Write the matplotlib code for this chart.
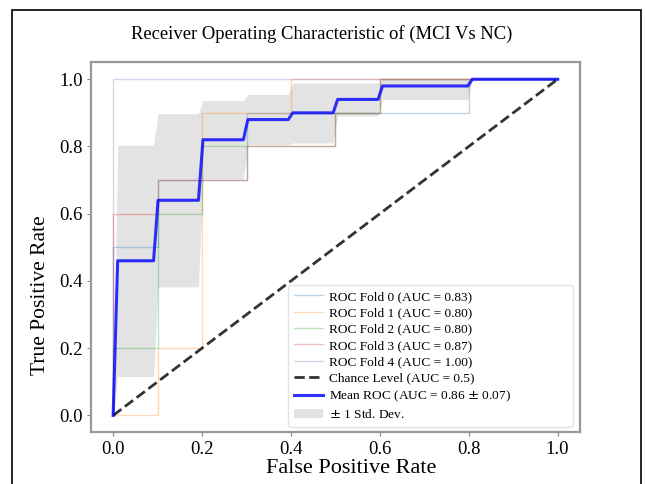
import numpy as np
import matplotlib.pyplot as plt
from matplotlib.patches import Rectangle

plt.rcParams['font.family'] = ['Liberation Serif', 'DejaVu Serif']

# per-fold ROC points (fpr, tpr)
fold_fpr = [
    [0.0, 0.0, 0.1, 0.1, 0.3, 0.3, 0.8, 0.8, 1.0],
    [0.0, 0.1, 0.1, 0.2, 0.2, 0.4, 0.4, 1.0],
    [0.0, 0.0, 0.1, 0.1, 0.2, 0.2, 0.5, 0.5, 0.6, 0.6, 1.0],
    [0.0, 0.0, 0.1, 0.1, 0.3, 0.3, 0.5, 0.5, 0.6, 0.6, 1.0],
    [0.0, 0.0, 1.0],
]
fold_tpr = [
    [0.0, 0.5, 0.5, 0.7, 0.7, 0.9, 0.9, 1.0, 1.0],
    [0.0, 0.0, 0.2, 0.2, 0.9, 0.9, 1.0, 1.0],
    [0.0, 0.2, 0.2, 0.6, 0.6, 0.8, 0.8, 0.9, 0.9, 1.0, 1.0],
    [0.0, 0.6, 0.6, 0.7, 0.7, 0.8, 0.8, 0.9, 0.9, 1.0, 1.0],
    [0.0, 1.0, 1.0],
]
fold_auc = [0.83, 0.80, 0.80, 0.87, 1.00]
mean_auc = 0.86
std_auc = 0.07
colors = ['#1f77b4', '#ff7f0e', '#2ca02c', '#d62728', '#9467bd']

fig = plt.figure(figsize=(6.45, 4.84), dpi=100)
ax = fig.add_axes([0.141, 0.107, 0.758, 0.764])

mean_fpr = np.linspace(0, 1, 100)
tprs = []
for i in range(len(fold_fpr)):
    ax.plot(fold_fpr[i], fold_tpr[i], color=colors[i], lw=1, alpha=0.3,
            label=f'ROC Fold {i} (AUC = {fold_auc[i]:.2f})')
    t = np.interp(mean_fpr, fold_fpr[i], fold_tpr[i])
    t[0] = 0.0
    tprs.append(t)

ax.plot([0, 1], [0, 1], 'k--', lw=2, alpha=0.8, label='Chance Level (AUC = 0.5)')

mean_tpr = np.mean(tprs, axis=0)
mean_tpr[-1] = 1.0
std_tpr = np.std(tprs, axis=0)
ax.plot(mean_fpr, mean_tpr, color='b', lw=2.2, alpha=0.8,
        label=f'Mean ROC (AUC = {mean_auc:.2f} $\\pm$ {std_auc:.2f})')
upper = np.minimum(mean_tpr + std_tpr, 1)
lower = np.maximum(mean_tpr - std_tpr, 0)
ax.fill_between(mean_fpr, lower, upper, color='grey', alpha=0.22, lw=0,
                label='$\\pm$ 1 Std. Dev.')

ax.set_xlim(-0.05, 1.05)
ax.set_ylim(-0.05, 1.05)
ax.set_xticks([0, 0.2, 0.4, 0.6, 0.8, 1.0])
ax.set_yticks([0, 0.2, 0.4, 0.6, 0.8, 1.0])
ax.tick_params(labelsize=13.5, length=3, color='#888888', pad=3)
for s in ax.spines.values():
    s.set_color('#999999')
    s.set_linewidth(1.6)
ax.set_xlabel('False Positive Rate', fontsize=16)
ax.xaxis.set_label_coords(0.532, -0.073, transform=ax.transAxes)
ax.xaxis.label.set_va('top')
ax.set_ylabel('True Positive Rate', fontsize=15.5)
ax.yaxis.set_label_coords(-0.083, 0.37, transform=ax.transAxes)
ax.set_title('Receiver Operating Characteristic of (MCI Vs NC)', fontsize=13.4,
             pad=17, x=0.472)

leg = ax.legend(loc='lower left', bbox_to_anchor=(0.403, 0.014, 0.583, 0.383),
                mode='expand', fontsize=9.6, handlelength=2.2,
                handletextpad=0.4, labelspacing=0.3, borderpad=0.45,
                borderaxespad=0, fancybox=True)
leg.get_frame().set_edgecolor('#dddddd')

# outer frame of the figure
fig.patches.append(Rectangle((12 / 645, -0.05), 629 / 645, 1.04 - 5 / 484,
                             transform=fig.transFigure, fill=False,
                             edgecolor='black', lw=1.2))

fig.savefig('out.png', dpi=100)
